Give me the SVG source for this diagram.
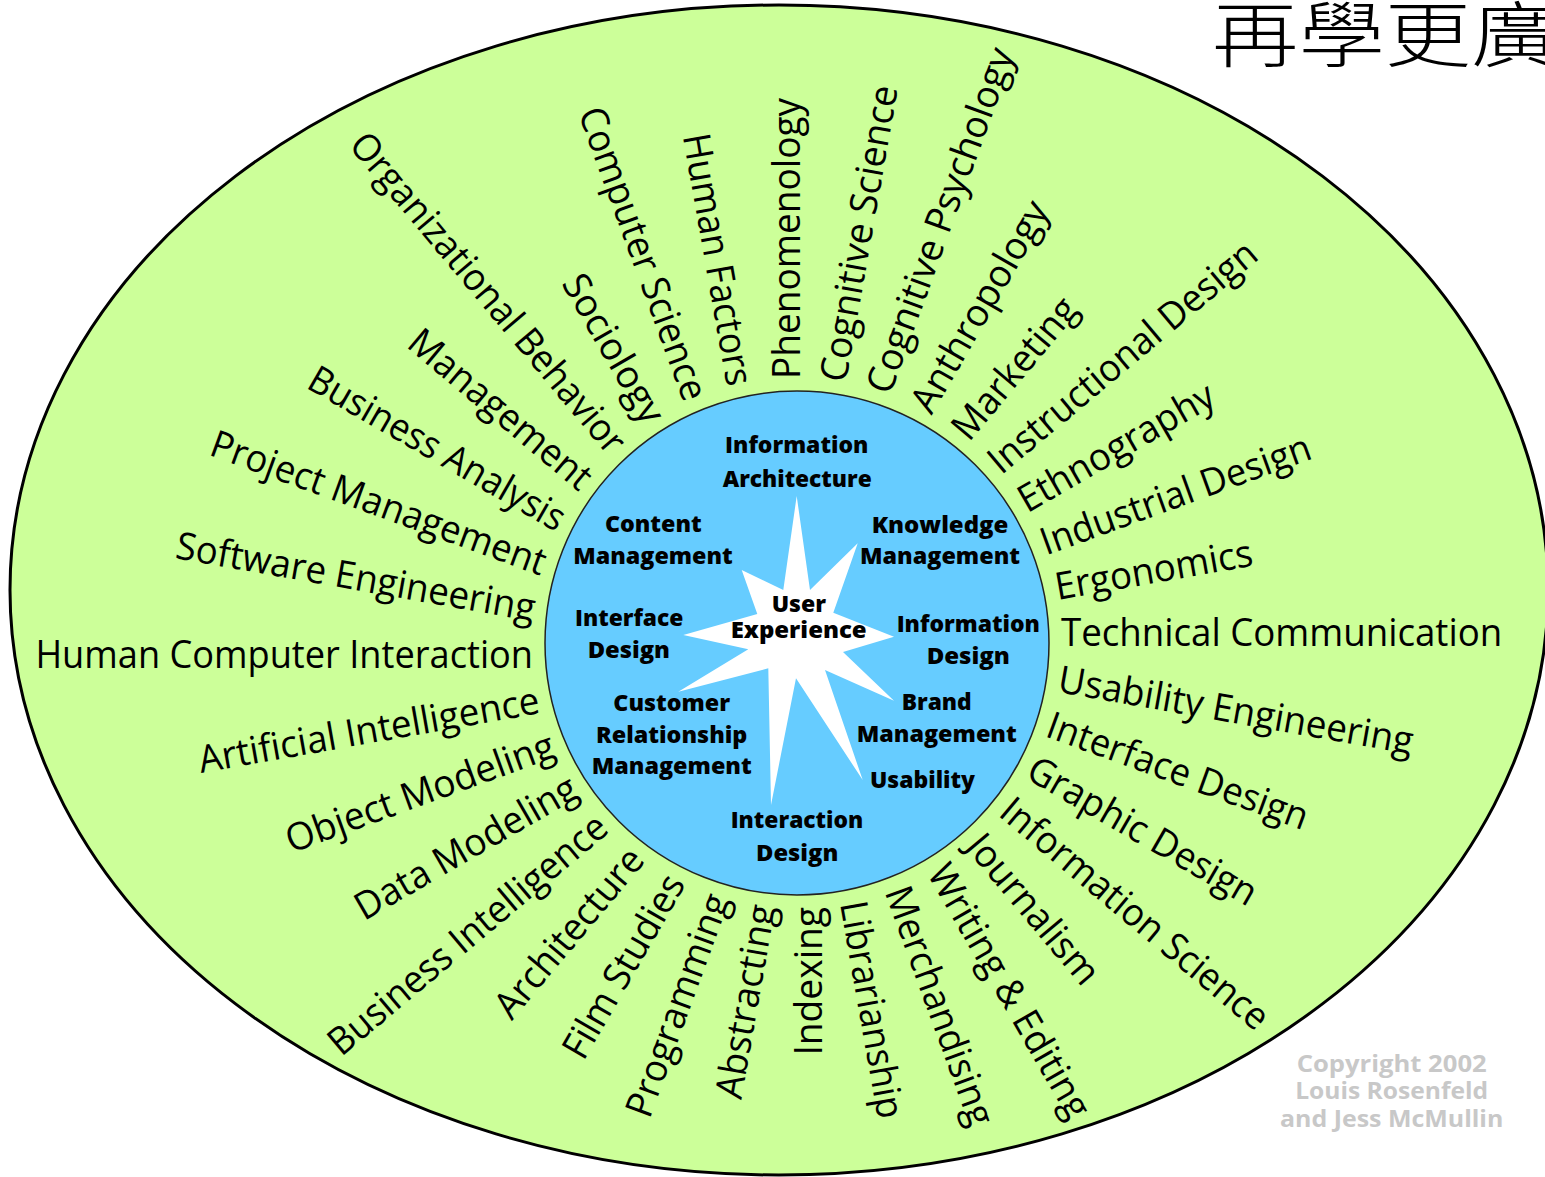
<svg xmlns="http://www.w3.org/2000/svg" width="1545" height="1177" viewBox="0 0 1545 1177">
<style>
.outer{fill:#ccff99;stroke:#000;stroke-width:3}
.inner{fill:#66ccff;stroke:#222;stroke-width:1.5}
.star{fill:#fff}
.lbl{font-family:"Open Sans","Noto Sans","DejaVu Sans",sans-serif;font-size:38px;fill:#000}
.in{text-anchor:end}
.core{font-family:"Open Sans","Noto Sans","DejaVu Sans",sans-serif;font-size:23.5px;font-weight:800;fill:#000;text-anchor:middle}
.copy{font-family:"Open Sans","Noto Sans","DejaVu Sans",sans-serif;font-size:23px;font-weight:700;fill:#c8c8c8;text-anchor:middle}
.cjk{font-family:"Noto Sans CJK TC","Noto Sans CJK SC",sans-serif;font-size:72px;font-weight:300;fill:#000}
</style>
<rect width="1545" height="1177" fill="#fff"/>
<g id="title"><text class="cjk" transform="translate(1212 61) scale(1.2 1)">再學更廣</text></g>
<g id="outer-ellipse"><ellipse class="outer" cx="779" cy="590" rx="769" ry="585"/></g>
<g id="core-circle"><circle class="inner" cx="797" cy="643" r="252"/></g>
<g id="star"><polygon class="star" points="796.7,496 810,590 857.7,543.3 833.3,612.7 894,636.7 843,652 894,700.7 825,670 862.7,780 796,678.3 771,805 768.3,668.3 678.3,691.7 748.3,649.3 683.3,635 757.3,614 741.7,570 783.3,590"/></g>
<g id="connectors"/>
<g id="core-labels">
<g id="user-experience"><text class="core" x="798.8" y="611.7" textLength="54.3" lengthAdjust="spacingAndGlyphs">User</text><text class="core" x="798.7" y="638.3" textLength="136" lengthAdjust="spacingAndGlyphs">Experience</text></g>
<g id="information-architecture"><text class="core" x="796.7" y="453.3" textLength="143.3" lengthAdjust="spacingAndGlyphs">Information</text><text class="core" x="797.2" y="486.7" textLength="149" lengthAdjust="spacingAndGlyphs">Architecture</text></g>
<g id="content-management"><text class="core" x="653.3" y="531.7" textLength="96.7" lengthAdjust="spacingAndGlyphs">Content</text><text class="core" x="653" y="564" textLength="159.3" lengthAdjust="spacingAndGlyphs">Management</text></g>
<g id="knowledge-management"><text class="core" x="940" y="532.7" textLength="136.7" lengthAdjust="spacingAndGlyphs">Knowledge</text><text class="core" x="940" y="564" textLength="160" lengthAdjust="spacingAndGlyphs">Management</text></g>
<g id="interface-design"><text class="core" x="629.2" y="626" textLength="108.3" lengthAdjust="spacingAndGlyphs">Interface</text><text class="core" x="628.8" y="657.7" textLength="82.3" lengthAdjust="spacingAndGlyphs">Design</text></g>
<g id="information-design"><text class="core" x="968.3" y="631.7" textLength="143.3" lengthAdjust="spacingAndGlyphs">Information</text><text class="core" x="968.3" y="664.3" textLength="83.3" lengthAdjust="spacingAndGlyphs">Design</text></g>
<g id="crm"><text class="core" x="671.7" y="710.7" textLength="116.7" lengthAdjust="spacingAndGlyphs">Customer</text><text class="core" x="671.7" y="742.7" textLength="151.3" lengthAdjust="spacingAndGlyphs">Relationship</text><text class="core" x="671.7" y="774.3" textLength="160" lengthAdjust="spacingAndGlyphs">Management</text></g>
<g id="brand-management"><text class="core" x="936.7" y="710" textLength="70" lengthAdjust="spacingAndGlyphs">Brand</text><text class="core" x="936.7" y="741.7" textLength="160" lengthAdjust="spacingAndGlyphs">Management</text></g>
<g id="usability"><text class="core" x="922.5" y="788.3" textLength="105" lengthAdjust="spacingAndGlyphs">Usability</text></g>
<g id="interaction-design"><text class="core" x="797" y="828.3" textLength="132.7" lengthAdjust="spacingAndGlyphs">Interaction</text><text class="core" x="797.2" y="861" textLength="82.3" lengthAdjust="spacingAndGlyphs">Design</text></g>
</g>
<g id="disciplines">
<g id="phenomenology" transform="translate(797 643) rotate(-90)"><text class="lbl" x="264" y="3" textLength="281.1" lengthAdjust="spacingAndGlyphs">Phenomenology</text></g>
<g id="cognitive-science" transform="translate(797 643) rotate(-80)"><text class="lbl" x="264" y="3" textLength="300.2" lengthAdjust="spacingAndGlyphs">Cognitive Science</text></g>
<g id="cognitive-psychology" transform="translate(797 643) rotate(-70)"><text class="lbl" x="264" y="3" textLength="364.3" lengthAdjust="spacingAndGlyphs">Cognitive Psychology</text></g>
<g id="anthropology" transform="translate(797 643) rotate(-60)"><text class="lbl" x="264" y="3" textLength="237.3" lengthAdjust="spacingAndGlyphs">Anthropology</text></g>
<g id="marketing" transform="translate(797 643) rotate(-50)"><text class="lbl" x="264" y="3" textLength="172.5" lengthAdjust="spacingAndGlyphs">Marketing</text></g>
<g id="instructional-design" transform="translate(797 643) rotate(-40)"><text class="lbl" x="264" y="3" textLength="338.3" lengthAdjust="spacingAndGlyphs">Instructional Design</text></g>
<g id="ethnography" transform="translate(797 643) rotate(-30)"><text class="lbl" x="264" y="3" textLength="220.4" lengthAdjust="spacingAndGlyphs">Ethnography</text></g>
<g id="industrial-design" transform="translate(797 643) rotate(-20)"><text class="lbl" x="264" y="3" textLength="284.9" lengthAdjust="spacingAndGlyphs">Industrial Design</text></g>
<g id="ergonomics" transform="translate(797 643) rotate(-10)"><text class="lbl" x="264" y="3" textLength="200.1" lengthAdjust="spacingAndGlyphs">Ergonomics</text></g>
<g id="technical-communication" transform="translate(797 643)"><text class="lbl" x="264" y="3" textLength="441.2" lengthAdjust="spacingAndGlyphs">Technical Communication</text></g>
<g id="usability-engineering" transform="translate(797 643) rotate(10)"><text class="lbl" x="264" y="3" textLength="359.7" lengthAdjust="spacingAndGlyphs">Usability Engineering</text></g>
<g id="interface-design-outer" transform="translate(797 643) rotate(20)"><text class="lbl" x="264" y="3" textLength="275.3" lengthAdjust="spacingAndGlyphs">Interface Design</text></g>
<g id="graphic-design" transform="translate(797 643) rotate(30)"><text class="lbl" x="264" y="3" textLength="258.5" lengthAdjust="spacingAndGlyphs">Graphic Design</text></g>
<g id="information-science" transform="translate(797 643) rotate(40)"><text class="lbl" x="264" y="3" textLength="337.6" lengthAdjust="spacingAndGlyphs">Information Science</text></g>
<g id="journalism" transform="translate(797 643) rotate(50)"><text class="lbl" x="264" y="3" textLength="183.6" lengthAdjust="spacingAndGlyphs">Journalism</text></g>
<g id="writing-editing" transform="translate(797 643) rotate(60)"><text class="lbl" x="264" y="3" textLength="286.8" lengthAdjust="spacingAndGlyphs">Writing &amp; Editing</text></g>
<g id="merchandising" transform="translate(797 643) rotate(70)"><text class="lbl" x="264" y="3" textLength="251.6" lengthAdjust="spacingAndGlyphs">Merchandising</text></g>
<g id="librarianship" transform="translate(797 643) rotate(80)"><text class="lbl" x="264" y="3" textLength="220" lengthAdjust="spacingAndGlyphs">Librarianship</text></g>
<g id="indexing" transform="translate(797 643) rotate(-90)"><text class="lbl in" x="-264" y="24.5" textLength="148.6" lengthAdjust="spacingAndGlyphs">Indexing</text></g>
<g id="abstracting" transform="translate(797 643) rotate(-80)"><text class="lbl in" x="-264" y="24.5" textLength="196.1" lengthAdjust="spacingAndGlyphs">Abstracting</text></g>
<g id="programming" transform="translate(797 643) rotate(-70)"><text class="lbl in" x="-264" y="24.5" textLength="234.5" lengthAdjust="spacingAndGlyphs">Programming</text></g>
<g id="film-studies" transform="translate(797 643) rotate(-60)"><text class="lbl in" x="-264" y="24.5" textLength="205.3" lengthAdjust="spacingAndGlyphs">Film Studies</text></g>
<g id="architecture" transform="translate(797 643) rotate(-50)"><text class="lbl in" x="-264" y="24.5" textLength="209.1" lengthAdjust="spacingAndGlyphs">Architecture</text></g>
<g id="business-intelligence" transform="translate(797 643) rotate(-40)"><text class="lbl in" x="-264" y="24.5" textLength="351.4" lengthAdjust="spacingAndGlyphs">Business Intelligence</text></g>
<g id="data-modeling" transform="translate(797 643) rotate(-30)"><text class="lbl in" x="-264" y="24.5" textLength="250" lengthAdjust="spacingAndGlyphs">Data Modeling</text></g>
<g id="object-modeling" transform="translate(797 643) rotate(-20)"><text class="lbl in" x="-264" y="24.5" textLength="283.2" lengthAdjust="spacingAndGlyphs">Object Modeling</text></g>
<g id="artificial-intelligence" transform="translate(797 643) rotate(-10)"><text class="lbl in" x="-264" y="24.5" textLength="345.6" lengthAdjust="spacingAndGlyphs">Artificial Intelligence</text></g>
<g id="hci" transform="translate(797 643)"><text class="lbl in" x="-264" y="24.5" textLength="497.6" lengthAdjust="spacingAndGlyphs">Human Computer Interaction</text></g>
<g id="software-engineering" transform="translate(797 643) rotate(10)"><text class="lbl in" x="-264" y="24.5" textLength="364.1" lengthAdjust="spacingAndGlyphs">Software Engineering</text></g>
<g id="project-management" transform="translate(797 643) rotate(20)"><text class="lbl in" x="-264" y="24.5" textLength="354.1" lengthAdjust="spacingAndGlyphs">Project Management</text></g>
<g id="business-analysis" transform="translate(797 643) rotate(30)"><text class="lbl in" x="-264" y="24.5" textLength="290" lengthAdjust="spacingAndGlyphs">Business Analysis</text></g>
<g id="management" transform="translate(797 643) rotate(40)"><text class="lbl in" x="-264" y="24.5" textLength="226.9" lengthAdjust="spacingAndGlyphs">Management</text></g>
<g id="organizational-behavior" transform="translate(797 643) rotate(50)"><text class="lbl in" x="-264" y="24.5" textLength="405.8" lengthAdjust="spacingAndGlyphs">Organizational Behavior</text></g>
<g id="sociology" transform="translate(797 643) rotate(60)"><text class="lbl in" x="-264" y="24.5" textLength="165.5" lengthAdjust="spacingAndGlyphs">Sociology</text></g>
<g id="computer-science" transform="translate(797 643) rotate(70)"><text class="lbl in" x="-264" y="24.5" textLength="309.1" lengthAdjust="spacingAndGlyphs">Computer Science</text></g>
<g id="human-factors" transform="translate(797 643) rotate(80)"><text class="lbl in" x="-264" y="24.5" textLength="255.2" lengthAdjust="spacingAndGlyphs">Human Factors</text></g>
</g>
<g id="copyright">
<text class="copy" x="1391.7" y="1071.7" textLength="190" lengthAdjust="spacingAndGlyphs">Copyright 2002</text>
<text class="copy" x="1391.7" y="1099.3" textLength="193" lengthAdjust="spacingAndGlyphs">Louis Rosenfeld</text>
<text class="copy" x="1391.7" y="1127.3" textLength="223.3" lengthAdjust="spacingAndGlyphs">and Jess McMullin</text>
</g>
</svg>
